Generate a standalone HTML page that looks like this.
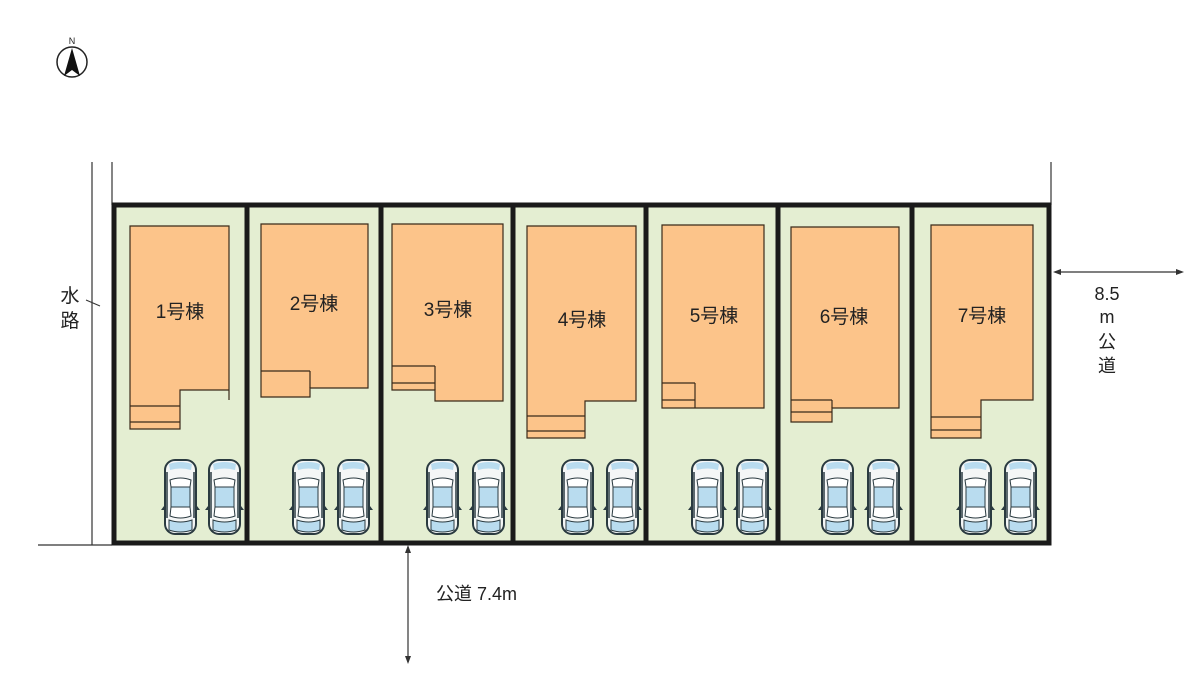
<!DOCTYPE html>
<html><head><meta charset="utf-8"><style>
html,body{margin:0;padding:0;background:#fff;}
svg{display:block;}
text{font-family:"Liberation Sans","Noto Sans CJK JP",sans-serif;fill:#222;}
</style></head><body>
<svg width="1200" height="694" viewBox="0 0 1200 694" xmlns="http://www.w3.org/2000/svg">
<defs>
<g id="car">
<rect x="1" y="1" width="33" height="76" rx="11" fill="#2a3a40"/>
<rect x="3" y="3" width="29" height="72" rx="9" fill="#f4f6f6"/>
<path d="M6 6 Q17.5 2 29 6 L28 12 Q17.5 9 7 12Z" fill="#b9dcef"/>
<path d="M7 22 Q17.5 18 28 22 L27 29 L8 29Z" fill="#fff" stroke="#2a3a40" stroke-width="1"/>
<rect x="8" y="29" width="19" height="20" fill="#b9dcef" stroke="#2a3a40" stroke-width="1"/>
<path d="M8 49 L27 49 L28 58 Q17.5 62 7 58Z" fill="#fff" stroke="#2a3a40" stroke-width="1"/>
<path d="M6 62 Q17.5 66 29 62 L29 72 Q17.5 76 6 72Z" fill="#b9dcef" stroke="#2a3a40" stroke-width="1"/>
<line x1="4" y1="14" x2="4" y2="60" stroke="#2a3a40" stroke-width="1.5"/>
<line x1="31" y1="14" x2="31" y2="60" stroke="#2a3a40" stroke-width="1.5"/>
<path d="M1 48 L-2 52 L2 52Z M34 48 L37 52 L33 52Z" fill="#2a3a40"/>
</g>
</defs>
<!-- north -->
<text x="72" y="44" font-size="9" text-anchor="middle">N</text>
<circle cx="72" cy="62" r="15" fill="none" stroke="#222" stroke-width="1.5"/>
<path d="M72 48 L64 76 L72 70 L80 76Z" fill="#111"/>
<!-- site lines -->
<line x1="92" y1="162" x2="92" y2="545" stroke="#333" stroke-width="1.2"/>
<line x1="112" y1="162" x2="112" y2="205" stroke="#333" stroke-width="1.2"/>
<line x1="1051" y1="162" x2="1051" y2="205" stroke="#333" stroke-width="1.2"/>
<line x1="38" y1="545" x2="112" y2="545" stroke="#333" stroke-width="1.2"/>
<line x1="86" y1="300" x2="100" y2="306" stroke="#333" stroke-width="1"/>
<text x="70" y="302" font-size="19" text-anchor="middle">水</text>
<text x="70" y="327" font-size="19" text-anchor="middle">路</text>
<!-- lots -->
<rect x="114" y="205" width="935" height="338" fill="#e4eed2" stroke="#1a1a1a" stroke-width="5"/>
<g stroke="#1a1a1a" stroke-width="5">
<line x1="247" y1="205" x2="247" y2="543"/><line x1="381" y1="205" x2="381" y2="543"/>
<line x1="513" y1="205" x2="513" y2="543"/><line x1="646" y1="205" x2="646" y2="543"/>
<line x1="778" y1="205" x2="778" y2="543"/><line x1="912" y1="205" x2="912" y2="543"/>
</g>
<!-- houses -->
<g fill="#fcc48a" stroke="#3a2a1a" stroke-width="1.2">
<polygon points="130,226 229,226 229,400 229,390 180,390 180,429 130,429"/>
<polygon points="261,224 368,224 368,388 310,388 310,397 261,397"/>
<polygon points="392,224 503,224 503,401 435,401 435,390 392,390"/>
<polygon points="527,226 636,226 636,401 585,401 585,438 527,438"/>
<polygon points="662,225 764,225 764,408 662,408"/>
<polygon points="791,227 899,227 899,408 832,408 832,422 791,422"/>
<polygon points="931,225 1033,225 1033,400 981,400 981,438 931,438"/>
</g>
<g stroke="#3a2a1a" stroke-width="1.2" fill="none">
<line x1="130" y1="406" x2="180" y2="406"/><line x1="130" y1="422" x2="180" y2="422"/>
<line x1="261" y1="371" x2="310" y2="371"/><line x1="310" y1="371" x2="310" y2="388"/>
<line x1="392" y1="366" x2="435" y2="366"/><line x1="435" y1="366" x2="435" y2="390"/><line x1="392" y1="383" x2="435" y2="383"/>
<line x1="527" y1="416" x2="585" y2="416"/><line x1="527" y1="431" x2="585" y2="431"/>
<line x1="662" y1="383" x2="695" y2="383"/><line x1="695" y1="383" x2="695" y2="408"/><line x1="662" y1="400" x2="695" y2="400"/>
<line x1="791" y1="400" x2="832" y2="400"/><line x1="832" y1="400" x2="832" y2="408"/><line x1="791" y1="412" x2="832" y2="412"/>
<line x1="931" y1="417" x2="981" y2="417"/><line x1="931" y1="430" x2="981" y2="430"/>
</g>
<g font-size="19" text-anchor="middle">
<text x="180" y="318">1号棟</text><text x="314" y="310">2号棟</text>
<text x="448" y="316">3号棟</text><text x="582" y="326">4号棟</text>
<text x="714" y="322">5号棟</text><text x="844" y="323">6号棟</text>
<text x="982" y="322">7号棟</text>
</g>
<!-- cars -->
<use href="#car" x="163" y="458"/><use href="#car" x="207" y="458"/>
<use href="#car" x="291" y="458"/><use href="#car" x="336" y="458"/>
<use href="#car" x="425" y="458"/><use href="#car" x="471" y="458"/>
<use href="#car" x="560" y="458"/><use href="#car" x="605" y="458"/>
<use href="#car" x="690" y="458"/><use href="#car" x="735" y="458"/>
<use href="#car" x="820" y="458"/><use href="#car" x="866" y="458"/>
<use href="#car" x="958" y="458"/><use href="#car" x="1003" y="458"/>
<!-- road arrows -->
<g stroke="#333" stroke-width="1.2" fill="#333">
<line x1="1055" y1="272" x2="1182" y2="272"/>
<path d="M1053 272 L1061 269 L1061 275Z M1184 272 L1176 269 L1176 275Z" stroke="none"/>
<line x1="408" y1="547" x2="408" y2="662"/>
<path d="M408 545 L405 553 L411 553Z M408 664 L405 656 L411 656Z" stroke="none"/>
</g>
<g font-size="18" text-anchor="middle">
<text x="1107" y="300">8.5</text><text x="1107" y="323">m</text>
<text x="1107" y="348">公</text><text x="1107" y="372">道</text>
</g>
<text x="436" y="600" font-size="18">公道 7.4m</text>
</svg>
</body></html>
